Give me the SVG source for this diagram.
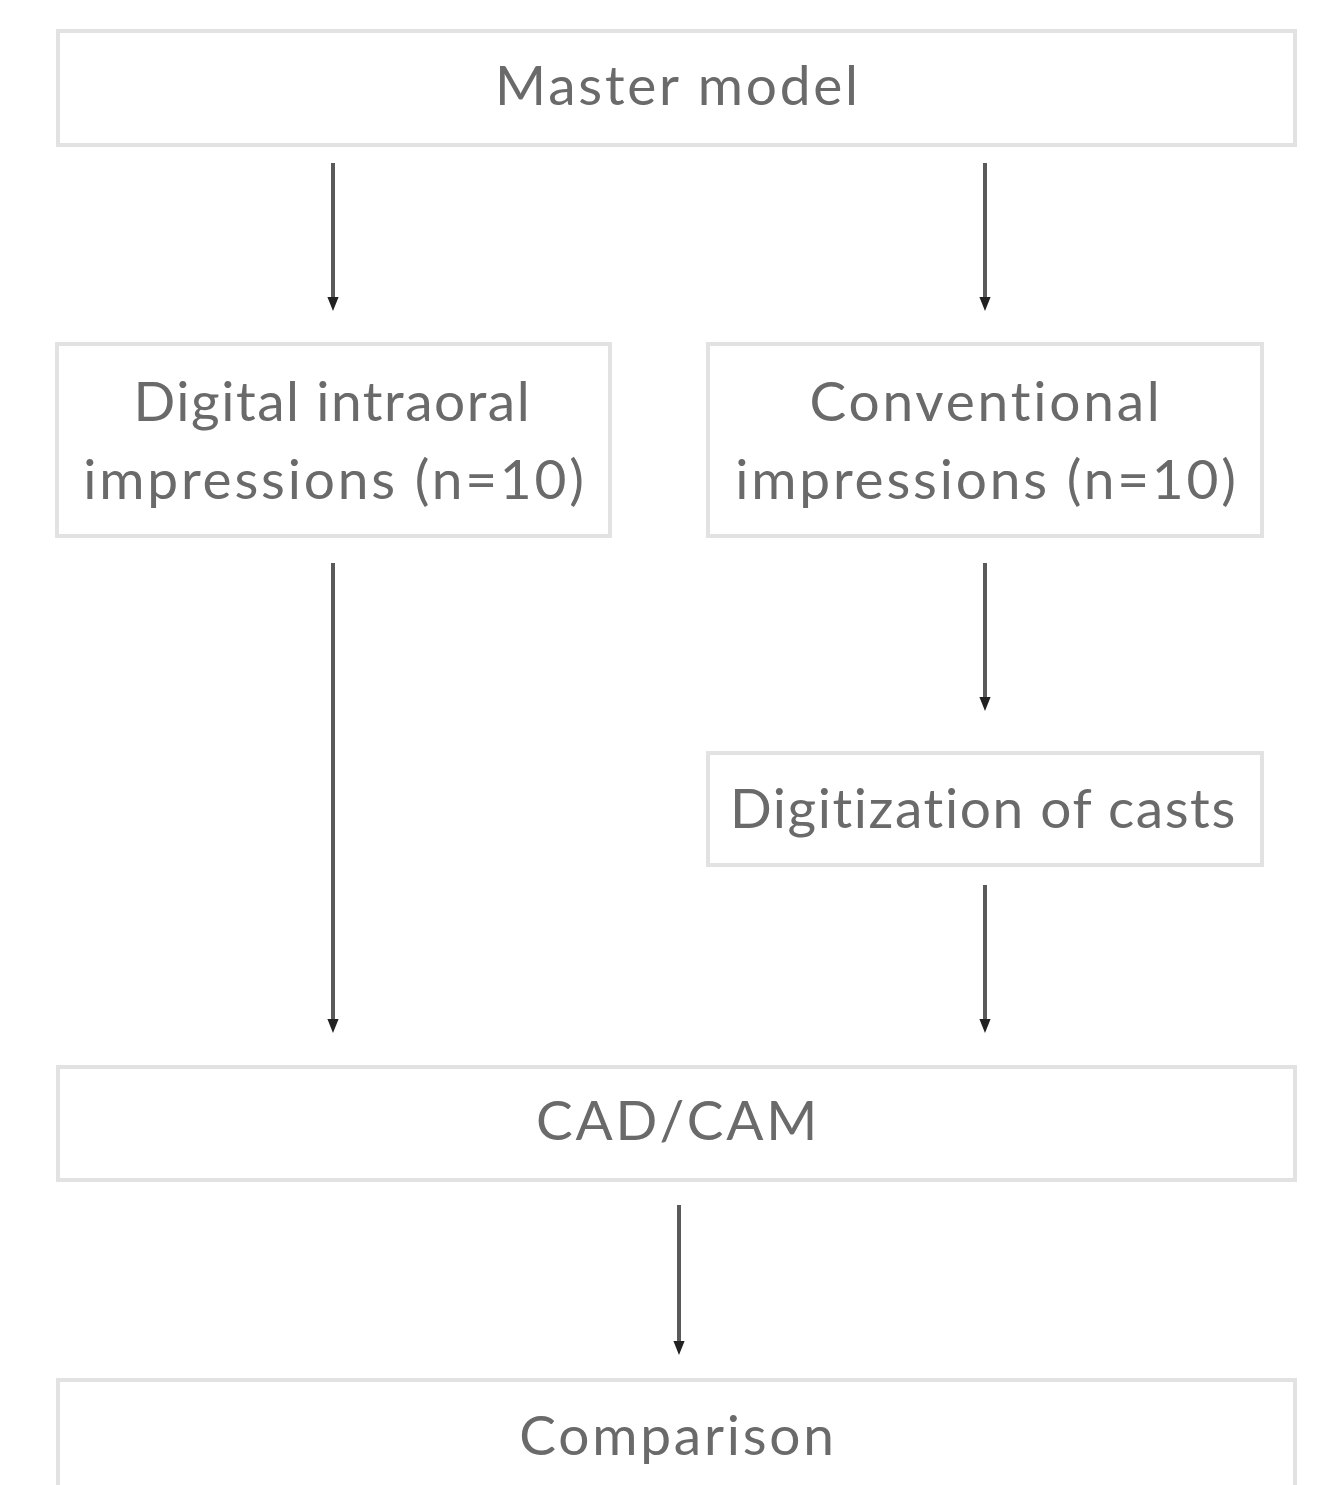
<svg xmlns="http://www.w3.org/2000/svg" width="1330" height="1485" viewBox="0 0 1330 1485">
<style>
.box{fill:#fff;stroke:#e2e2e2;stroke-width:4}
.t{font-family:Lato,"Noto Sans",sans-serif;font-size:55px;fill:#6a6a6a;text-anchor:middle;letter-spacing:2.8px}
.c{stroke:#5a5a5a;stroke-width:4;fill:none;marker-end:url(#ah)}
</style>
<defs>
<marker id="ah" viewBox="0 0 10 10" refX="5" refY="5" markerWidth="3.5" markerHeight="3.5" orient="auto" markerUnits="strokeWidth">
<path d="M0,1 L10,5 L0,9 z" fill="#222"/>
</marker>
</defs>
<rect width="1330" height="1485" fill="#fff"/>
<g id="master"><rect class="box" x="58" y="31" width="1237" height="114"/><text class="t" x="678" y="105">Master model</text></g>
<g id="digital"><rect class="box" x="57" y="344" width="553" height="192"/><text class="t" x="333" y="421" textLength="399" lengthAdjust="spacing">Digital intraoral</text><text class="t" x="335" y="499">impressions (n=10)</text></g>
<g id="conventional"><rect class="box" x="708" y="344" width="554" height="192"/><text class="t" x="986" y="421">Conventional</text><text class="t" x="987" y="499">impressions (n=10)</text></g>
<g id="digitization"><rect class="box" x="708" y="753" width="554" height="112"/><text class="t" x="984" y="828" textLength="508" lengthAdjust="spacing">Digitization of casts</text></g>
<g id="cadcam"><rect class="box" x="58" y="1067" width="1237" height="113"/><text class="t" x="678" y="1140">CAD/CAM</text></g>
<g id="comparison"><rect class="box" x="58" y="1380" width="1237" height="130"/><text class="t" x="678" y="1455">Comparison</text></g>
<g id="connectors">
<line class="c" x1="333" y1="163" x2="333" y2="304"/>
<line class="c" x1="985" y1="163" x2="985" y2="304"/>
<line class="c" x1="333" y1="563" x2="333" y2="1026"/>
<line class="c" x1="985" y1="563" x2="985" y2="704"/>
<line class="c" x1="985" y1="885" x2="985" y2="1026"/>
<line class="c" x1="679" y1="1205" x2="679" y2="1348"/>
</g>
</svg>
